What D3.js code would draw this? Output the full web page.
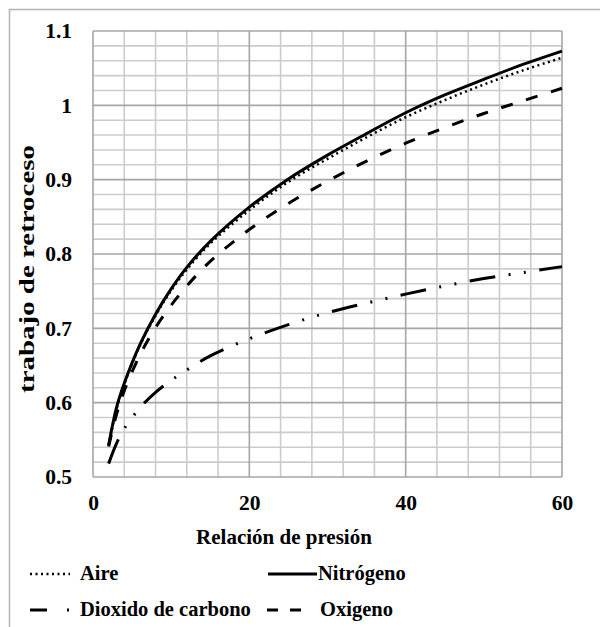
<!DOCTYPE html>
<html>
<head>
<meta charset="utf-8">
<script src="https://cdn.jsdelivr.net/npm/d3@7"></script>
<style>
  html, body { margin: 0; padding: 0; background: #fff; }
  svg { display: block; }
  text { font-family: "Liberation Serif", "Times New Roman", serif; font-weight: bold; fill: #000; }
</style>
</head>
<body>
<svg id="chart" width="600" height="627"></svg>
<script>
// Pressure ratio values where each curve was sampled
const presion = [2, 3, 4, 6, 8, 10, 12, 15, 20, 25, 30, 35, 40, 45, 50, 55, 60];

// Back work ratio for each working gas
const aire      = [0.542, 0.591, 0.625, 0.677, 0.717, 0.751, 0.779, 0.814, 0.859, 0.897, 0.928, 0.957, 0.984, 1.007, 1.028, 1.047, 1.064];
const nitrogeno = [0.543, 0.593, 0.626, 0.678, 0.719, 0.753, 0.782, 0.817, 0.863, 0.901, 0.933, 0.962, 0.990, 1.014, 1.035, 1.055, 1.073];
const dioxido   = [0.518, 0.545, 0.565, 0.593, 0.614, 0.630, 0.644, 0.663, 0.686, 0.705, 0.721, 0.734, 0.746, 0.757, 0.767, 0.775, 0.783];
const oxigeno   = [0.541, 0.584, 0.616, 0.664, 0.701, 0.731, 0.757, 0.790, 0.833, 0.868, 0.898, 0.925, 0.949, 0.970, 0.989, 1.006, 1.023];

// Axis ticks
const xTicks = [0, 20, 40, 60];
const yTicks = [0.5, 0.6, 0.7, 0.8, 0.9, 1.0, 1.1];

const svg = d3.select("#chart");

// Outer chart frame
svg.append("rect")
  .attr("x", 9.5).attr("y", 9.5)
  .attr("width", 620).attr("height", 640)
  .attr("fill", "#fff")
  .attr("stroke", "#b4b4b4").attr("stroke-width", 1.5);

const plot = { left: 93, right: 562, top: 31, bottom: 477 };

const x = d3.scaleLinear().domain([0, 60]).range([plot.left, plot.right]);
const y = d3.scaleLinear().domain([0.5, 1.1]).range([plot.bottom, plot.top]);

// Minor gridlines
const gMinor = svg.append("g");
gMinor.selectAll("line.vx")
  .data(d3.range(0, 61, 4).filter(v => v % 20 !== 0))
  .join("line")
  .attr("x1", d => x(d)).attr("x2", d => x(d))
  .attr("y1", plot.top).attr("y2", plot.bottom)
  .attr("stroke", "#cccccc").attr("stroke-width", 1.6);
gMinor.selectAll("line.hy")
  .data(d3.range(0, 31).map(i => +(0.5 + i * 0.02).toFixed(2)).filter(v => Math.round(v * 100) % 10 !== 0))
  .join("line")
  .attr("x1", plot.left).attr("x2", plot.right)
  .attr("y1", d => y(d)).attr("y2", d => y(d))
  .attr("stroke", "#cccccc").attr("stroke-width", 1.6);

// Major gridlines
const gMajor = svg.append("g");
gMajor.selectAll("line.vx")
  .data(xTicks)
  .join("line")
  .attr("x1", d => x(d)).attr("x2", d => x(d))
  .attr("y1", plot.top).attr("y2", plot.bottom)
  .attr("stroke", "#a6a6a6").attr("stroke-width", 1.6);
gMajor.selectAll("line.hy")
  .data(yTicks)
  .join("line")
  .attr("x1", plot.left).attr("x2", plot.right)
  .attr("y1", d => y(d)).attr("y2", d => y(d))
  .attr("stroke", "#a6a6a6").attr("stroke-width", 1.6);

// Axes (labels only)
const yAxis = svg.append("g")
  .attr("transform", `translate(${plot.left},0)`)
  .call(d3.axisLeft(y).tickValues(yTicks).tickSize(0).tickPadding(21)
    .tickFormat(d => String(+d.toFixed(1))));
const xAxis = svg.append("g")
  .attr("transform", `translate(0,${plot.bottom})`)
  .call(d3.axisBottom(x).tickValues(xTicks).tickSize(0).tickPadding(18));
[yAxis, xAxis].forEach(g => {
  g.select(".domain").remove();
  g.selectAll("text")
    .style("font-size", "21.5px")
    .attr("fill", "#000");
});

// Series
const series = [
  { name: "Aire", values: aire, width: 2.5, dash: "2,3.5", legendDash: "2,3.5" },
  { name: "Nitrógeno", values: nitrogeno, width: 3, dash: null, legendDash: null },
  { name: "Dioxido de carbono", values: dioxido, width: 3, dash: "26,13.5,2,13.5,2,13.5", legendDash: "17,20,2,20" },
  { name: "Oxigeno", values: oxigeno, width: 3, dash: "12,14", legendDash: "11,12" }
];

const line = d3.line()
  .x(d => x(d[0]))
  .y(d => y(d[1]))
  .curve(d3.curveCatmullRom.alpha(0.5));

svg.append("g").selectAll("path")
  .data(series)
  .join("path")
  .attr("d", s => line(presion.map((p, i) => [p, s.values[i]])))
  .attr("fill", "none")
  .attr("stroke", "#000")
  .attr("stroke-width", s => s.width)
  .attr("stroke-dasharray", s => s.dash);

// Axis titles
svg.append("text")
  .attr("x", 284)
  .attr("y", 544)
  .attr("text-anchor", "middle")
  .style("font-size", "21px")
  .text("Relación de presión");

svg.append("text")
  .attr("transform", "translate(33.5,269) rotate(-90)")
  .attr("text-anchor", "middle")
  .attr("textLength", 248)
  .attr("lengthAdjust", "spacingAndGlyphs")
  .style("font-size", "22px")
  .text("trabajo de retroceso");

// Legend
const legendItems = [
  { s: series[0], x1: 30, x2: 70, tx: 80, ly: 574, ty: 580 },
  { s: series[1], x1: 268, x2: 317, tx: 318, ly: 574, ty: 580 },
  { s: series[2], x1: 30, x2: 70, tx: 80, ly: 610, ty: 616 },
  { s: series[3], x1: 267, x2: 303, tx: 320, ly: 610, ty: 616 }
];
const lg = svg.append("g");
lg.selectAll("line")
  .data(legendItems)
  .join("line")
  .attr("x1", d => d.x1).attr("x2", d => d.x2)
  .attr("y1", d => d.ly).attr("y2", d => d.ly)
  .attr("stroke", "#000")
  .attr("stroke-width", d => d.s.width)
  .attr("stroke-dasharray", d => d.s.legendDash);
lg.selectAll("text")
  .data(legendItems)
  .join("text")
  .attr("x", d => d.tx).attr("y", d => d.ty)
  .style("font-size", "20.5px")
  .text(d => d.s.name);
</script>
</body>
</html>
